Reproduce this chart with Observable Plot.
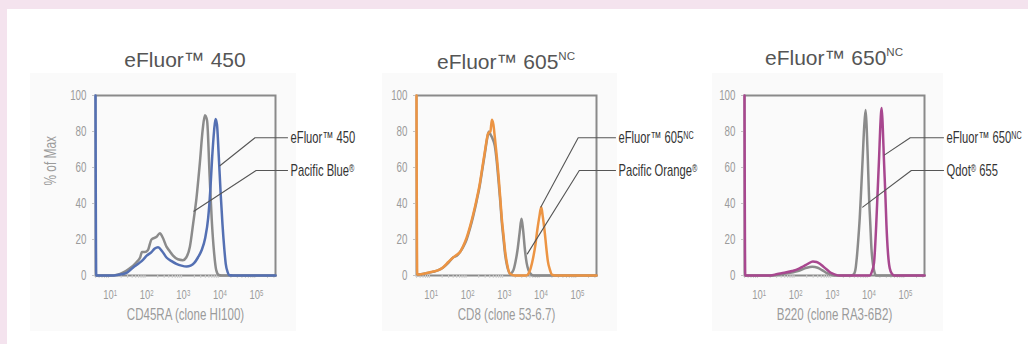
<!DOCTYPE html>
<html>
<head>
<meta charset="utf-8">
<script src="https://cdn.jsdelivr.net/npm/d3@7"></script>
<script src="https://cdn.jsdelivr.net/npm/@observablehq/plot@0.6"></script>
<style>
  html, body { margin: 0; padding: 0; background: #fff; }
  #chart { position: relative; width: 1028px; height: 344px; overflow: hidden; background: #f4e3ee; }
  #inner { position: absolute; left: 7px; top: 9px; right: 0; bottom: 0; background: #fff; }
  .back { position: absolute; top: 73px; height: 258px; background: #fafafa; }
  .title { position: absolute; width: 300px; margin-left: -150px; text-align: center; white-space: nowrap;
           font-family: "Liberation Sans", Arial, sans-serif; font-size: 21px; color: #555; line-height: 24px; }
  .title sup { font-size: 55%; vertical-align: 0.75em; line-height: 0; }
  .panel { position: absolute; top: 80px; }
</style>
</head>
<body>
<div id="chart"><div id="inner"></div></div>
<script>
// ---------------- DATA (x values are log10 of fluorescence intensity, y = % of Max) ----------------
const titles  = ["eFluor™ 450", "eFluor™ 605^{NC}", "eFluor™ 650^{NC}"];
const xLabels = ["CD45RA (clone HI100)", "CD8 (clone 53-6.7)", "B220 (clone RA3-6B2)"];
const yLabel  = "% of Max";
const yTicks  = [0, 20, 40, 60, 80, 100];
const xTickExponents = [1, 2, 3, 4, 5];

// Panel 1: eFluor 450 (blue) vs Pacific Blue (gray)
const ef450Log = [0.6,0.62,1.0,1.2,1.45,1.63,1.8,1.91,2.0,2.13,2.22,2.31,2.42,2.54,2.68,2.81,2.95,3.09,3.2,3.3,3.4,3.5,3.6,3.68,3.74,3.79,3.84,3.88,3.92,3.97,4.02,4.07,4.12,4.16,4.21,4.25,4.35,5.52];
const ef450Pct = [100,0,0,0.3,1.5,4.5,7,9,11,13,15,15.7,13.5,10,8,6.5,5.5,5,5.5,7,10,14,21,32,48,66,80,87,84,66,46,28.7,15,6.5,2,0.3,0,0];
const pacBlueLog = [0.62,1.0,1.2,1.36,1.5,1.63,1.75,1.82,1.87,1.95,2.03,2.13,2.27,2.36,2.44,2.54,2.63,2.72,2.85,2.99,3.08,3.18,3.27,3.36,3.45,3.53,3.59,3.65,3.72,3.78,3.84,3.9,3.97,4.05,5.52];
const pacBluePct = [0,0,0.5,1.8,3.5,5.5,8,10,13,13,14,20,21.5,23.5,21,16,13.5,11,9,8.5,10,16,29,43,62,81,89,86,55,30,13,3,0.3,0,0];

// Panel 2: eFluor 605NC (orange) vs Pacific Orange (gray)
const ef605Log = [0.6,0.62,0.8,1.05,1.2,1.33,1.47,1.6,1.7,1.79,1.88,1.97,2.06,2.15,2.24,2.33,2.4,2.47,2.56,2.62,2.66,2.7,2.74,2.8,2.84,2.89,2.93,2.98,3.02,3.08,3.16,3.3,3.6,3.66,3.72,3.79,3.85,3.9,3.96,4.01,4.05,4.1,4.15,4.19,4.25,4.3,4.4,5.52];
const ef605Pct = [100,0.5,1,2.2,3,4.6,7.5,10,11.5,13,16.5,21,27,34,42,51,60,69,79,80,86.5,84,77,65,56,43,32,22,14,6,1,0,0,1,4,10,17,25,33,38,33,25,15,8,3,0.5,0,0];
const pacOrangeLog = [0.62,0.8,1.05,1.2,1.33,1.47,1.6,1.7,1.79,1.88,1.97,2.06,2.15,2.24,2.33,2.4,2.47,2.53,2.58,2.63,2.68,2.74,2.8,2.84,2.89,2.93,2.98,3.02,3.08,3.16,3.25,3.31,3.36,3.42,3.47,3.51,3.56,3.61,3.66,3.72,3.8,5.52];
const pacOrangePct = [0.5,1,2,3,4.5,7,10,11,13,16,20,26,33,41,50,59,68,76,80,78,76,72,62,53,41,30,20,12,5,1,3,8,14,24,31.5,26,15,7,3,1,0,0];

// Panel 3: eFluor 650NC (magenta) vs Qdot 655 (gray)
const ef650Log = [0.6,0.62,1.3,1.5,1.69,1.9,2.06,2.2,2.33,2.47,2.57,2.66,2.75,2.84,2.96,3.08,3.2,4.02,4.08,4.14,4.2,4.24,4.28,4.31,4.35,4.38,4.41,4.45,4.48,4.52,4.57,4.63,4.7,5.52];
const ef650Pct = [100,0,0,0.8,1.5,2.5,3.5,5,6.5,7.8,7.5,6.5,5,3.5,1.5,0.5,0,0,2,7,28,47,66,82,93,82,65,45,28,13,4,1,0,0];
const qdotLog = [0.62,1.3,1.69,2.06,2.3,2.45,2.6,2.72,2.84,3.0,3.1,3.5,3.58,3.63,3.67,3.71,3.75,3.79,3.83,3.87,3.91,3.94,3.97,4.0,4.04,4.07,4.11,4.15,4.2,5.52];
const qdotPct = [0,0,1,2.5,4.3,4.8,4.3,3,1.5,0.3,0,0,0.5,3,10,20,32,48,65,82,92,82,65,46,28,15,6.5,2,0,0];

// Callout labels and the data points they point at (log10 x, %)
const p1Callouts = [
  {label: "eFluor™ 450",       tip: [4.0, 61],   elbow: 4.96, y: 76.5, end: 5.85},
  {label: "Pacific Blue^{®}",  tip: [3.29, 35.7], elbow: 4.99, y: 58.3, end: 5.85}
];
const p2Callouts = [
  {label: "eFluor™ 605^{NC}",   tip: [4.0, 38],  elbow: 5.02, y: 76.5, end: 6.04},
  {label: "Pacific Orange^{®}", tip: [3.63, 12], elbow: 5.05, y: 58.3, end: 6.04}
];
const p3Callouts = [
  {label: "eFluor™ 650^{NC}", tip: [4.43, 67], elbow: 5.13, y: 76.5, end: 6.04},
  {label: "Qdot^{®} 655",     tip: [3.83, 38], elbow: 5.16, y: 58.3, end: 6.04}
];

// ---------------- STYLE / LAYOUT ----------------
const GRAY = "#8b8b8b", BLUE = "#5470b3", ORANGE = "#ec9443", MAGENTA = "#a8478f";
const FONT = '"Liberation Sans", Arial, sans-serif';
const CONDENSE = 0.7;                // horizontal squeeze to mimic the condensed face
const AXIS_TEXT = "#9b9b9b";
const W = 180, H = 180, ML = 75, MR = 115, MT = 15, MB = 55;
const xDomainExp = [0.6, 5.52];

const panels = [
  {left: 95,  titleTop: 48, series: [{x: pacBlueLog, y: pacBluePct, color: GRAY}, {x: ef450Log, y: ef450Pct, color: BLUE}], callouts: p1Callouts, yLabel: true},
  {left: 416, titleTop: 50, series: [{x: pacOrangeLog, y: pacOrangePct, color: GRAY}, {x: ef605Log, y: ef605Pct, color: ORANGE}], callouts: p2Callouts, yLabel: false},
  {left: 744, titleTop: 46, series: [{x: qdotLog, y: qdotPct, color: GRAY}, {x: ef650Log, y: ef650Pct, color: MAGENTA}], callouts: p3Callouts, yLabel: false}
];
const backs = [[30, 296], [382, 617], [712, 943]];

const minorTicks = d3.range(0, 6).flatMap(n => d3.range(2, 10).map(k => k * 10 ** n))
  .filter(v => Math.log10(v) > xDomainExp[0] && Math.log10(v) < xDomainExp[1]);

function supify(root) {
  const NS = "http://www.w3.org/2000/svg";
  root.querySelectorAll("text").forEach(t => {
    const targets = t.querySelectorAll("tspan").length ? [...t.querySelectorAll("tspan")] : [t];
    targets.forEach(n => {
      const s = n.textContent;
      if (!s.includes("^{")) return;
      n.textContent = "";
      s.split(/(\^\{[^}]*\})/).forEach(part => {
        if (!part) return;
        const ts = document.createElementNS(NS, "tspan");
        if (part.startsWith("^{")) {
          ts.textContent = part.slice(2, -1);
          ts.setAttribute("baseline-shift", "38%");
          ts.setAttribute("font-size", "64%");
        } else ts.textContent = part;
        n.appendChild(ts);
      });
    });
  });
}

function condense(root, f) {
  root.querySelectorAll("text").forEach(t => {
    const x = +t.getAttribute("x") || 0, y = +t.getAttribute("y") || 0;
    const T = t.getAttribute("transform") || "";
    t.setAttribute("transform", `${T} translate(${x},${y}) scale(${f},1) translate(${-x},${-y})`.trim());
  });
}

const chart = document.getElementById("chart");

backs.forEach(([a, b]) => {
  const d = document.createElement("div");
  d.className = "back";
  d.style.left = a + "px";
  d.style.width = (b - a) + "px";
  chart.appendChild(d);
});

panels.forEach((p, i) => {
  const t = document.createElement("div");
  t.className = "title";
  t.style.left = (p.left + W / 2) + "px";
  t.style.top = p.titleTop + "px";
  t.innerHTML = titles[i].replace(/\^\{([^}]*)\}/g, "<sup>$1</sup>");
  chart.appendChild(t);

  const leaderRows = p.callouts.flatMap((c, k) => [
    {k, e: c.tip[0], v: c.tip[1]},
    {k, e: c.elbow, v: c.y},
    {k, e: c.end, v: c.y}
  ]);

  const marks = [
    Plot.frame({stroke: "#8a8a8a", strokeWidth: 2}),
    Plot.axisY({ticks: yTicks, tickSize: 3, tickPadding: 6, stroke: "#c4c4c4", fill: AXIS_TEXT, fontSize: 14, label: null}),
    Plot.axisX({ticks: minorTicks, tickSize: 3, tickFormat: () => "", stroke: "#cfcfcf", label: null}),
    Plot.axisX({ticks: xTickExponents.map(n => 10 ** n), tickSize: 0, tickPadding: 14,
                tickFormat: d => `10^{${Math.round(Math.log10(d))}}`, fill: AXIS_TEXT, fontSize: 13.5, label: null}),
    ...p.series.map(s => Plot.line(s.x.map((e, j) => ({e, v: s.y[j]})),
        {x: d => 10 ** d.e, y: "v", stroke: s.color, strokeWidth: 2.5, curve: "monotone-x", strokeLinejoin: "round"})),
    Plot.line(leaderRows, {x: d => 10 ** d.e, y: "v", z: "k", stroke: "#555", strokeWidth: 1.1}),
    Plot.text(p.callouts, {x: c => 10 ** c.end, y: "y", text: "label", textAnchor: "start", dx: 3, fontSize: 16, fill: "#333"}),
    Plot.text([xLabels[i]], {frameAnchor: "bottom", dy: 44, fontSize: 16.5, fill: AXIS_TEXT})
  ];
  if (p.yLabel) marks.push(Plot.text([yLabel], {frameAnchor: "left", dx: -45, rotate: -90, fontSize: 17, fill: AXIS_TEXT}));

  const svg = Plot.plot({
    width: ML + W + MR, height: MT + H + MB,
    marginLeft: ML, marginRight: MR, marginTop: MT, marginBottom: MB,
    x: {type: "log", domain: xDomainExp.map(e => 10 ** e)},
    y: {domain: [0, 100]},
    style: {background: "transparent", overflow: "visible", fontFamily: FONT},
    marks
  });
  supify(svg);
  condense(svg, CONDENSE);
  const holder = document.createElement("div");
  holder.className = "panel";
  holder.style.left = (p.left - ML) + "px";
  holder.style.width = (ML + W + MR) + "px";
  holder.appendChild(svg);
  chart.appendChild(holder);
});
</script>
</body>
</html>
